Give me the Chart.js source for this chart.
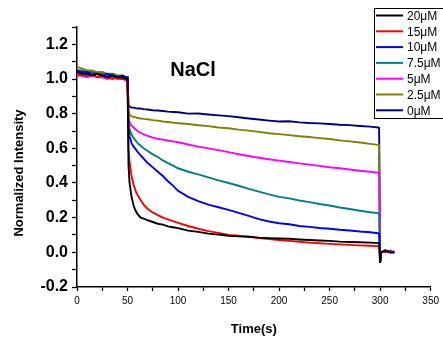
<!DOCTYPE html>
<html>
<head>
<meta charset="utf-8">
<script src="https://cdn.jsdelivr.net/npm/chart.js@4"></script>
<style>
  html, body { margin: 0; padding: 0; background: #fff; }
  #wrap { width: 443px; height: 344px; }
</style>
</head>
<body>
<div id="wrap"><canvas id="c" width="443" height="344"></canvas></div>
<script>
// time axis (s), shared by every trace
const times = [
  0, 5, 10, 15, 20, 25, 30, 35, 40, 45, 49,
  50, 51, 52, 54, 56, 58, 60, 63, 66, 70, 75, 80, 85, 90, 95, 100,
  110, 120, 130, 140, 150, 160, 170, 180, 190, 200, 210, 220, 230, 240, 250, 260, 270, 280, 290,
  298, 299,
  300, 301, 305, 310, 314
];

const labels = ['20\u03bcM', '15\u03bcM', '10\u03bcM', '7.5\u03bcM', '5\u03bcM', '2.5\u03bcM', '0\u03bcM'];
const colors = ['#000000', '#ff0000', '#0000ff', '#008080', '#ff00ff', '#808000', '#000080'];

const conc20 = [
  1.04, 1.03, 1.03, 1.02, 1.03, 1.02, 1.01, 1.02, 1.01, 1.01, 1.00,
  1.00, 0.50, 0.40, 0.32, 0.27, 0.24, 0.22, 0.20, 0.195, 0.185, 0.175, 0.165, 0.16, 0.15, 0.145, 0.14,
  0.125, 0.118, 0.108, 0.102, 0.096, 0.092, 0.09, 0.085, 0.082, 0.08, 0.078, 0.074, 0.071, 0.068, 0.066, 0.062, 0.06, 0.058, 0.056,
  0.053, 0.052,
  -0.06, 0.0, 0.01, 0.0, 0.0
];
const conc15 = [
  1.03, 1.02, 1.02, 1.03, 1.01, 1.02, 1.01, 1.00, 1.01, 1.00, 1.00,
  1.00, 0.60, 0.52, 0.44, 0.39, 0.355, 0.33, 0.30, 0.275, 0.25, 0.23, 0.215, 0.20, 0.19, 0.18, 0.17,
  0.152, 0.136, 0.122, 0.112, 0.10, 0.096, 0.09, 0.082, 0.077, 0.071, 0.066, 0.061, 0.056, 0.052, 0.049, 0.046, 0.043, 0.04, 0.038,
  0.036, 0.035,
  -0.05, 0.0, 0.005, 0.0, 0.005
];
const conc10 = [
  1.05, 1.04, 1.04, 1.03, 1.03, 1.02, 1.03, 1.02, 1.01, 1.02, 1.01,
  1.01, 0.72, 0.67, 0.63, 0.61, 0.595, 0.58, 0.56, 0.54, 0.515, 0.49, 0.465, 0.44, 0.41, 0.385, 0.355,
  0.32, 0.295, 0.275, 0.26, 0.245, 0.228, 0.21, 0.192, 0.178, 0.168, 0.162, 0.152, 0.147, 0.14, 0.136, 0.13, 0.126, 0.12, 0.116,
  0.11, 0.108,
  -0.06, 0.0, 0.01, 0.0, 0.0
];
const conc7_5 = [
  1.05, 1.05, 1.04, 1.04, 1.03, 1.03, 1.02, 1.03, 1.02, 1.01, 1.01,
  1.01, 0.75, 0.71, 0.68, 0.66, 0.645, 0.63, 0.615, 0.60, 0.585, 0.565, 0.55, 0.53, 0.515, 0.50, 0.485,
  0.465, 0.45, 0.432, 0.415, 0.40, 0.384, 0.366, 0.35, 0.334, 0.32, 0.311, 0.299, 0.29, 0.279, 0.27, 0.259, 0.25, 0.24, 0.231,
  0.226, 0.224,
  -0.05, 0.0, 0.01, 0.005, 0.0
];
const conc5 = [
  1.02, 1.02, 1.01, 1.02, 1.01, 1.01, 1.00, 1.01, 1.00, 1.00, 0.99,
  0.99, 0.78, 0.75, 0.73, 0.72, 0.71, 0.70, 0.69, 0.68, 0.672, 0.662, 0.655, 0.65, 0.645, 0.64, 0.635,
  0.622, 0.61, 0.60, 0.59, 0.578, 0.566, 0.556, 0.546, 0.537, 0.529, 0.521, 0.513, 0.506, 0.499, 0.491, 0.485, 0.478, 0.471, 0.465,
  0.46, 0.458,
  -0.05, 0.0, 0.005, 0.01, 0.0
];
const conc2_5 = [
  1.07, 1.06, 1.05, 1.05, 1.04, 1.04, 1.03, 1.03, 1.02, 1.02, 1.01,
  1.01, 0.81, 0.795, 0.785, 0.78, 0.78, 0.775, 0.772, 0.77, 0.768, 0.763, 0.76, 0.755, 0.752, 0.748, 0.745,
  0.74, 0.733, 0.728, 0.72, 0.716, 0.708, 0.702, 0.695, 0.687, 0.682, 0.676, 0.67, 0.665, 0.659, 0.654, 0.646, 0.64, 0.634, 0.626,
  0.62, 0.618,
  -0.04, 0.0, 0.01, 0.005, 0.0
];
const conc0 = [
  1.04, 1.04, 1.03, 1.03, 1.03, 1.02, 1.02, 1.02, 1.01, 1.01, 1.01,
  1.01, 0.85, 0.84, 0.835, 0.835, 0.832, 0.83, 0.83, 0.826, 0.824, 0.82, 0.818, 0.815, 0.812, 0.81, 0.808,
  0.80, 0.801, 0.795, 0.79, 0.786, 0.779, 0.772, 0.766, 0.76, 0.755, 0.756, 0.75, 0.746, 0.744, 0.74, 0.736, 0.734, 0.729, 0.725,
  0.72, 0.718,
  -0.06, 0.0, 0.005, 0.0, 0.0
];

const series = [conc20, conc15, conc10, conc7_5, conc5, conc2_5, conc0];

const FONT = 'Liberation Sans, Arial, Helvetica, sans-serif';

// legend box + "NaCl" label + y title, drawn on top
const overlay = {
  id: 'overlay',
  afterDraw(chart) {
    const ctx = chart.ctx;
    ctx.save();

    ctx.fillStyle = '#000';
    ctx.font = 'bold 20px ' + FONT;
    ctx.textAlign = 'center';
    ctx.textBaseline = 'middle';
    ctx.fillText('NaCl', 193, 70);

    // y title
    ctx.translate(19, 173);
    ctx.rotate(-Math.PI / 2);
    ctx.font = 'bold 13px ' + FONT;
    ctx.fillText('Normalized Intensity', 0, 0);
    ctx.setTransform(1, 0, 0, 1, 0, 0);

    // legend
    const bx = 374.5, by = 8.5;
    ctx.fillStyle = '#fff';
    ctx.fillRect(bx, by, 80, 110);
    ctx.strokeStyle = '#000';
    ctx.lineWidth = 1;
    ctx.strokeRect(bx, by, 80, 110);
    ctx.font = '12px ' + FONT;
    ctx.textAlign = 'left';
    chart.data.datasets.forEach((ds, i) => {
      const y = 15.5 + i * 15.8;
      ctx.strokeStyle = ds.borderColor;
      ctx.lineWidth = 2;
      ctx.beginPath();
      ctx.moveTo(376, y);
      ctx.lineTo(403, y);
      ctx.stroke();
      ctx.fillStyle = '#000';
      ctx.fillText(ds.label, 407, y + 1);
    });
    ctx.restore();
  }
};

new Chart(document.getElementById('c'), {
  type: 'line',
  data: {
    datasets: series.map((vals, i) => ({
      label: labels[i],
      data: vals.map((v, j) => ({ x: times[j], y: v })),
      borderColor: colors[i],
      backgroundColor: colors[i],
      borderWidth: 1.9,
      pointRadius: 0,
      tension: 0,
      fill: false
    }))
  },
  options: {
    responsive: false,
    animation: false,
    devicePixelRatio: 1,
    layout: { padding: { top: 27, right: 8, left: 0, bottom: 0 } },
    plugins: { legend: { display: false }, tooltip: { enabled: false } },
    scales: {
      x: {
        type: 'linear',
        min: 0,
        max: 350,
        afterFit: s => { s.height = 57; },
        ticks: {
          stepSize: 25,
          autoSkip: false,
          maxRotation: 0,
          padding: 4,
          color: '#000',
          font: { family: FONT, size: 10 },
          callback: v => (v % 50 === 0 ? String(v) : '')
        },
        grid: { drawOnChartArea: false, drawTicks: true, tickLength: 4, tickColor: '#000', tickWidth: 1.3 },
        border: { display: true, color: '#000', width: 1.5 },
        title: {
          display: true,
          text: 'Time(s)',
          color: '#000',
          font: { family: FONT, size: 13, weight: 'bold' },
          padding: { top: 0, bottom: 7 }
        }
      },
      y: {
        min: -0.2,
        max: 1.3,
        afterFit: s => { s.width = 77; },
        ticks: {
          stepSize: 0.1,
          autoSkip: false,
          padding: 4,
          color: '#000',
          font: { family: FONT, size: 16, weight: 'bold' },
          callback: v => (Math.round(v * 10) % 2 === 0 ? v.toFixed(1) : '')
        },
        grid: { drawOnChartArea: false, drawTicks: true, tickLength: 5, tickColor: '#000', tickWidth: 1.3 },
        border: { display: true, color: '#000', width: 1.5 }
      }
    }
  },
  plugins: [overlay]
});
</script>
</body>
</html>
